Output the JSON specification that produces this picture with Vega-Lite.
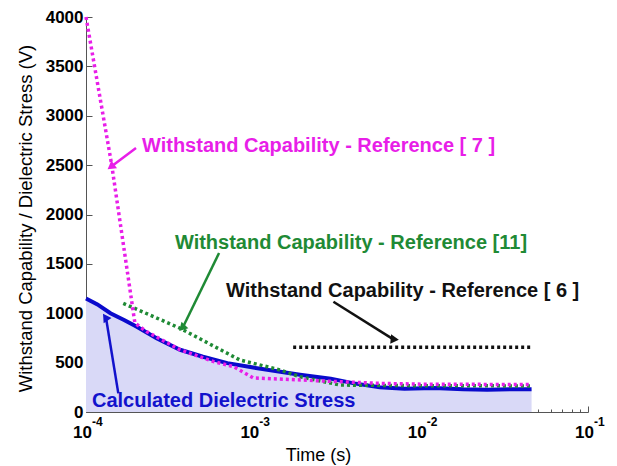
{
  "$schema": "https://vega.github.io/schema/vega-lite/v6.json",
  "width": 502,
  "height": 395,
  "autosize": "none",
  "padding": {"left": 86, "top": 17, "right": 29, "bottom": 54},
  "background": "white",
  "config": {
    "view": {"stroke": null},
    "font": "Liberation Sans",
    "axis": {
      "domainColor": "#555555",
      "tickColor": "#555555",
      "labelColor": "black",
      "titleColor": "black",
      "grid": false
    }
  },
  "datasets": {
    "curves": [
      {"series": "Calculated", "t": 0.0001, "v": 1150},
      {"series": "Calculated", "t": 0.000117, "v": 1090},
      {"series": "Calculated", "t": 0.00014, "v": 1000},
      {"series": "Calculated", "t": 0.00017, "v": 930},
      {"series": "Calculated", "t": 0.0002, "v": 865},
      {"series": "Calculated", "t": 0.000264, "v": 746},
      {"series": "Calculated", "t": 0.000365, "v": 630},
      {"series": "Calculated", "t": 0.0005, "v": 560},
      {"series": "Calculated", "t": 0.0007, "v": 495},
      {"series": "Calculated", "t": 0.001, "v": 450},
      {"series": "Calculated", "t": 0.00145, "v": 408},
      {"series": "Calculated", "t": 0.0019, "v": 378},
      {"series": "Calculated", "t": 0.0029, "v": 338},
      {"series": "Calculated", "t": 0.004, "v": 290},
      {"series": "Calculated", "t": 0.0057, "v": 250},
      {"series": "Calculated", "t": 0.008, "v": 236},
      {"series": "Calculated", "t": 0.012, "v": 242},
      {"series": "Calculated", "t": 0.018, "v": 230},
      {"series": "Calculated", "t": 0.025, "v": 226},
      {"series": "Calculated", "t": 0.035, "v": 230},
      {"series": "Calculated", "t": 0.046, "v": 230},
      {"series": "Reference [7]", "t": 0.0001, "v": 4000},
      {"series": "Reference [7]", "t": 0.0001425, "v": 2500},
      {"series": "Reference [7]", "t": 0.000196, "v": 900},
      {"series": "Reference [7]", "t": 0.00023, "v": 815},
      {"series": "Reference [7]", "t": 0.000365, "v": 630},
      {"series": "Reference [7]", "t": 0.00058, "v": 510},
      {"series": "Reference [7]", "t": 0.00076, "v": 460},
      {"series": "Reference [7]", "t": 0.001, "v": 345},
      {"series": "Reference [7]", "t": 0.0033, "v": 307},
      {"series": "Reference [7]", "t": 0.0057, "v": 290},
      {"series": "Reference [7]", "t": 0.01, "v": 282},
      {"series": "Reference [7]", "t": 0.046, "v": 278},
      {"series": "Reference [11]", "t": 0.000167, "v": 1100},
      {"series": "Reference [11]", "t": 0.000365, "v": 848},
      {"series": "Reference [11]", "t": 0.00083, "v": 527},
      {"series": "Reference [11]", "t": 0.00145, "v": 425},
      {"series": "Reference [11]", "t": 0.0019, "v": 357},
      {"series": "Reference [11]", "t": 0.0033, "v": 273},
      {"series": "Reference [11]", "t": 0.01, "v": 266},
      {"series": "Reference [11]", "t": 0.046, "v": 264},
      {"series": "Reference [6]", "t": 0.00173, "v": 655},
      {"series": "Reference [6]", "t": 0.046, "v": 655}
    ],
    "notes": [
      {"series": "Reference [7]", "text": "Withstand Capability - Reference [ 7 ]", "t": 0.000216, "v": 2694},
      {"series": "Reference [11]", "text": "Withstand Capability - Reference [11]", "t": 0.00034, "v": 1711},
      {"series": "Reference [6]", "text": "Withstand Capability - Reference [ 6 ]", "t": 0.000687, "v": 1225},
      {"series": "Calculated", "text": "Calculated Dielectric Stress", "t": 0.0001086, "v": 111}
    ],
    "arrows": [
      {"series": "Reference [7]", "t": 0.000199, "v": 2673, "t2": 0.000143, "v2": 2491},
      {"series": "Reference [11]", "t": 0.000624, "v": 1610, "t2": 0.00038, "v2": 861},
      {"series": "Reference [6]", "t": 0.00301, "v": 1117, "t2": 0.00687, "v2": 736},
      {"series": "Calculated", "t": 0.000156, "v": 189, "t2": 0.0001318, "v2": 949}
    ],
    "decades": [
      {"t": 0.0001, "base": "10", "exp": "-4"},
      {"t": 0.001, "base": "10", "exp": "-3"},
      {"t": 0.01, "base": "10", "exp": "-2"},
      {"t": 0.1, "base": "10", "exp": "-1"}
    ]
  },
  "resolve": {"axis": {"x": "independent"}},
  "layer": [
    {
      "data": {"name": "curves"},
      "transform": [{"filter": "datum.series === 'Calculated'"}],
      "mark": {"type": "area", "color": "#d9d9f7", "interpolate": "linear"},
      "encoding": {
        "x": {
          "field": "t", "type": "quantitative",
          "scale": {"type": "log", "domain": [0.0001, 0.1], "nice": false},
          "axis": {
            "title": "Time (s)",
            "values": [0.0001, 0.001, 0.01, 0.1],
            "labels": false,
            "tickSize": -6,
            "titleFontSize": 18,
            "titleFontWeight": "normal",
            "titleX": 232,
            "titleY": 34
          }
        },
        "y": {
          "field": "v", "type": "quantitative",
          "scale": {"domain": [0, 4000], "nice": false},
          "axis": {
            "title": "Withstand Capability / Dielectric Stress (V)",
            "values": [0, 500, 1000, 1500, 2000, 2500, 3000, 3500, 4000],
            "format": "d",
            "labelFontSize": 17,
            "labelFontWeight": "bold",
            "labelPadding": 9,
            "tickSize": -6,
            "titleFontSize": 18.5,
            "titleFontWeight": "normal",
            "titleX": -61,
            "titleY": 201,
            "titleBaseline": "middle",
            "labelFlush": false
          }
        }
      }
    },
    {
      "data": {"name": "curves"},
      "transform": [{"filter": "datum.series === 'Calculated'"}],
      "mark": {"type": "line", "color": "#0a0acc", "strokeWidth": 4},
      "encoding": {
        "x": {"field": "t", "type": "quantitative", "scale": {"type": "log"}, "axis": {
          "values": [0.0002, 0.0003, 0.0004, 0.0005, 0.0006, 0.0007, 0.0008, 0.0009, 0.002, 0.003, 0.004, 0.005, 0.006, 0.007, 0.008, 0.009, 0.02, 0.03, 0.04, 0.05, 0.06, 0.07, 0.08, 0.09],
          "orient": "bottom", "labels": false, "domain": false, "title": null, "tickSize": -3}},
        "y": {"field": "v", "type": "quantitative"}
      }
    },
    {
      "data": {"name": "curves"},
      "transform": [{"filter": "datum.series === 'Reference [11]'"}],
      "mark": {"type": "line", "color": "#1f8a35", "strokeWidth": 3.5, "strokeDash": [3, 3]},
      "encoding": {
        "x": {"field": "t", "type": "quantitative", "axis": null},
        "y": {"field": "v", "type": "quantitative"}
      }
    },
    {
      "data": {"name": "curves"},
      "transform": [{"filter": "datum.series === 'Reference [7]'"}],
      "mark": {"type": "line", "color": "#e81ee8", "strokeWidth": 3.5, "strokeDash": [3, 3]},
      "encoding": {
        "x": {"field": "t", "type": "quantitative", "axis": null},
        "y": {"field": "v", "type": "quantitative"}
      }
    },
    {
      "data": {"name": "curves"},
      "transform": [{"filter": "datum.series === 'Reference [6]'"}],
      "mark": {"type": "line", "color": "#111111", "strokeWidth": 3.5, "strokeDash": [3, 3]},
      "encoding": {
        "x": {"field": "t", "type": "quantitative", "axis": null},
        "y": {"field": "v", "type": "quantitative"}
      }
    },
    {
      "data": {"name": "arrows"},
      "mark": {"type": "rule", "strokeWidth": 2.5},
      "encoding": {
        "x": {"field": "t", "type": "quantitative", "axis": null},
        "y": {"field": "v", "type": "quantitative"},
        "x2": {"field": "t2"},
        "y2": {"field": "v2"},
        "color": {
          "field": "series", "type": "nominal", "legend": null,
          "scale": {"domain": ["Reference [7]", "Reference [11]", "Reference [6]", "Calculated"], "range": ["#e81ee8", "#1f8a35", "#111111", "#1212cc"]}
        }
      }
    },
    {
      "data": {"name": "arrows"},
      "mark": {"type": "point", "shape": "triangle", "filled": true, "size": 90, "opacity": 1},
      "encoding": {
        "x": {"field": "t2", "type": "quantitative", "axis": null},
        "y": {"field": "v2", "type": "quantitative"},
        "angle": {
          "field": "series", "type": "nominal",
          "scale": {"domain": ["Reference [7]", "Reference [11]", "Reference [6]", "Calculated"], "range": [233, 206, 122, 351]}
        },
        "color": {"field": "series", "type": "nominal", "legend": null}
      }
    },
    {
      "data": {"name": "notes"},
      "mark": {"type": "text", "align": "left", "baseline": "middle", "fontSize": 20, "fontWeight": "bold", "font": "Liberation Sans"},
      "encoding": {
        "x": {"field": "t", "type": "quantitative", "axis": null},
        "y": {"field": "v", "type": "quantitative"},
        "text": {"field": "text"},
        "color": {"field": "series", "type": "nominal", "legend": null}
      }
    },
    {
      "data": {"name": "decades"},
      "mark": {"type": "text", "align": "right", "baseline": "middle", "dx": 6, "dy": 21, "fontSize": 17, "fontWeight": "bold", "color": "black", "clip": false},
      "encoding": {
        "x": {"field": "t", "type": "quantitative", "axis": null},
        "y": {"datum": 0},
        "text": {"field": "base"}
      }
    },
    {
      "data": {"name": "decades"},
      "mark": {"type": "text", "align": "left", "baseline": "middle", "dx": 6, "dy": 10, "fontSize": 12, "fontWeight": "bold", "color": "black", "clip": false},
      "encoding": {
        "x": {"field": "t", "type": "quantitative", "axis": null},
        "y": {"datum": 0},
        "text": {"field": "exp"}
      }
    }
  ]
}
